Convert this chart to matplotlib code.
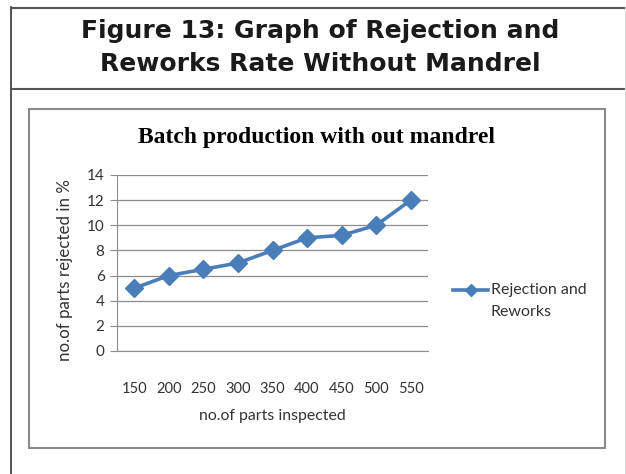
import matplotlib
matplotlib.use('Agg')
import matplotlib.pyplot as plt
from matplotlib.lines import Line2D
from matplotlib.patches import Rectangle

W, H = 626, 474

batch_sizes = ['150', '200', '250', '300', '350', '400', '450', '500', '550']
rejection_pct = [5, 6, 6.5, 7, 8, 9, 9.2, 10, 12]
series_name = ['Rejection and', 'Reworks']

blue = '#4a7ebb'
grid = '#8c8c8c'
txt = '#333333'
body_font = ['Lato', 'DejaVu Sans']


def fx(x):
    return x / W


def fy(y):
    return 1 - y / H


fig = plt.figure(figsize=(W / 100, H / 100), dpi=100)

# outer frame of the figure caption table
fig.add_artist(Line2D([fx(11), fx(11)], [fy(7), fy(474)], color='#333333', lw=1.2))
fig.add_artist(Line2D([fx(11), fx(626)], [fy(7.5), fy(7.5)], color='#555555', lw=1.5))
fig.add_artist(Line2D([fx(11), fx(626)], [fy(88.5), fy(88.5)], color='#555555', lw=1.5))
fig.add_artist(Line2D([fx(625), fx(625)], [fy(7), fy(474)], color='#d8d8d8', lw=0.8))

fig.text(fx(320), fy(31), 'Figure 13: Graph of Rejection and', ha='center', va='center',
         fontsize=18, fontweight='bold', family='DejaVu Sans', color='#1a1a1a')
fig.text(fx(320), fy(64), 'Reworks Rate Without Mandrel', ha='center', va='center',
         fontsize=18, fontweight='bold', family='DejaVu Sans', color='#1a1a1a')

# chart border
fig.add_artist(Rectangle((fx(28.5), fy(448)), fx(605 - 28.5), (448 - 109) / H,
                         fill=False, edgecolor='#8a8a8a', lw=1.5, transform=fig.transFigure))

fig.text(fx(317), fy(138), 'Batch production with out mandrel', ha='center', va='center',
         fontsize=17, fontweight='bold', family='Liberation Serif', color='black')

ax = fig.add_axes([fx(117), fy(351), fx(428 - 117), (351 - 175) / H])
x = range(len(batch_sizes))
ax.plot(x, rejection_pct, color=blue, lw=2.6, marker='D', markersize=9,
        markerfacecolor=blue, markeredgecolor=blue)
ax.set_xlim(-0.5, len(batch_sizes) - 0.5)
ax.set_ylim(0, 14)
ax.set_yticks(range(0, 15, 2))
ax.set_xticks(list(x))
ax.set_xticklabels(batch_sizes)
ax.yaxis.grid(True, color=grid, lw=0.9)
ax.set_axisbelow(True)
for s in ['top', 'right']:
    ax.spines[s].set_visible(False)
ax.spines['left'].set_color(grid)
ax.spines['bottom'].set_color(grid)
ax.tick_params(axis='y', length=5, color=grid, pad=4, labelsize=11, labelcolor=txt)
ax.tick_params(axis='x', length=0, pad=22, labelsize=10.5, labelcolor=txt)
for lab in ax.get_xticklabels() + ax.get_yticklabels():
    lab.set_family(body_font)

fig.text(fx(65), fy(270), 'no.of parts rejected in %', rotation=90, ha='center', va='center',
         fontsize=12.2, family=body_font, color=txt)
fig.text(fx(272), fy(416), 'no.of parts inspected', ha='center', va='center',
         fontsize=11.4, family=body_font, color=txt)

# legend
fig.add_artist(Line2D([fx(453), fx(471), fx(488)], [fy(290), fy(290), fy(290)], color=blue, lw=2.6,
                      marker='D', markevery=[1], markersize=6.5, markerfacecolor=blue))
fig.text(fx(491), fy(290), series_name[0], ha='left', va='center', fontsize=11.5,
         family=body_font, color=txt)
fig.text(fx(491), fy(312), series_name[1], ha='left', va='center', fontsize=11.5,
         family=body_font, color=txt)

fig.savefig('out.png', dpi=100)
